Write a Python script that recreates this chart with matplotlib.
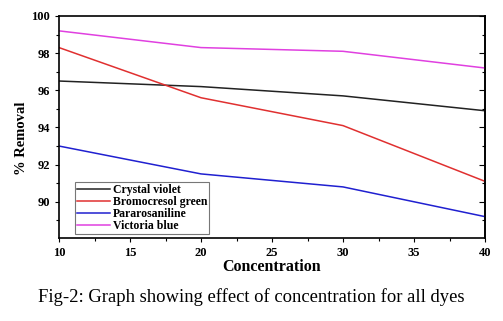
import numpy as np
from matplotlib import pyplot as plt

conc = [10, 20, 30, 40]
crystal_violet = [96.5, 96.2, 95.7, 94.9]
bromocresol_green = [98.3, 95.6, 94.1, 91.1]
pararosaniline = [93.0, 91.5, 90.8, 89.2]
victoria_blue = [99.2, 98.3, 98.1, 97.2]

plt.rcParams["font.family"] = ["Liberation Serif", "DejaVu Serif"]

fig = plt.figure(figsize=(5.03, 3.21), dpi=100)
ax = fig.add_axes([59 / 503, 1 - 238 / 321, 426 / 503, 222 / 321])

ax.plot(conc, crystal_violet, color="#222222", lw=1.1, label="Crystal violet")
ax.plot(conc, bromocresol_green, color="#e03030", lw=1.1, label="Bromocresol green")
ax.plot(conc, pararosaniline, color="#2020d0", lw=1.1, label="Pararosaniline")
ax.plot(conc, victoria_blue, color="#e040e0", lw=1.1, label="Victoria blue")

ax.set_xlim(10, 40)
ax.set_ylim(88.05, 100)
ax.set_xticks([10, 15, 20, 25, 30, 35, 40])
ax.set_xticks(np.arange(12.5, 40, 5), minor=True)
ax.set_yticks([90, 92, 94, 96, 98, 100])
ax.set_yticks([89, 91, 93, 95, 97, 99], minor=True)
ax.tick_params(which="both", direction="out", labelsize=9, width=0.8)
ax.tick_params(which="major", length=3)
ax.tick_params(which="minor", length=2)
# right-hand ticks point inward, no labels
ax2 = ax.secondary_yaxis("right")
ax2.set_yticks([90, 92, 94, 96, 98, 100], labels=[])
ax2.set_yticks([89, 91, 93, 95, 97, 99], minor=True)
ax2.tick_params(which="both", direction="in", width=0.8)
ax2.tick_params(which="major", length=4)
ax2.tick_params(which="minor", length=2)
ax2.spines["right"].set_linewidth(1.2)
for lab in ax.get_xticklabels() + ax.get_yticklabels():
    lab.set_fontweight("bold")
for s in ax.spines.values():
    s.set_linewidth(1.2)

ax.set_xlabel("Concentration", fontsize=11.5, fontweight="bold", labelpad=0)
ax.set_ylabel("% Removal", fontsize=10.5, fontweight="bold")
ax.yaxis.set_label_coords(-0.072, 0.45)

leg = ax.legend(loc="lower left", bbox_to_anchor=(0.037, 0.02),
                prop={"weight": "bold", "size": 8.5}, frameon=True, fancybox=False,
                handlelength=2.8, handletextpad=0.3, borderpad=0.15, labelspacing=0.0,
                edgecolor="#555555", borderaxespad=0)
leg.get_frame().set_linewidth(0.8)

fig.text(0.5, 1 - 297 / 321, "Fig-2: Graph showing effect of concentration for all dyes",
         ha="center", va="center", fontsize=13.4)

fig.savefig("out.png", dpi=100)
